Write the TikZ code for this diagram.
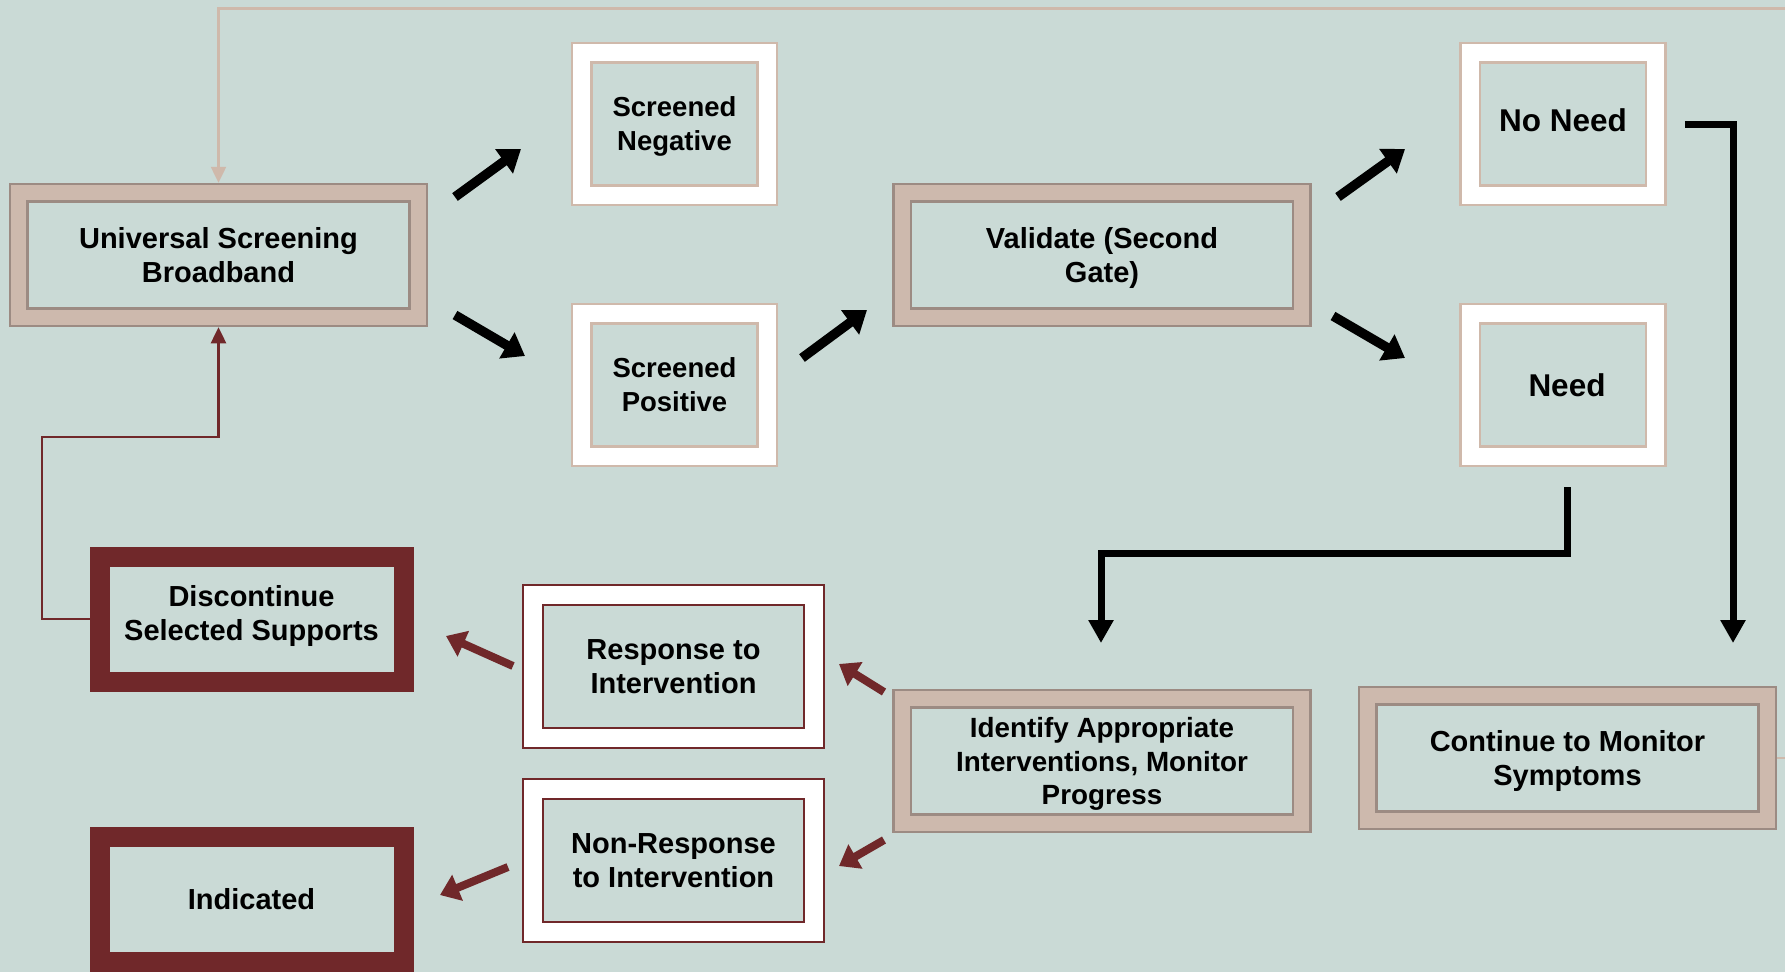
\documentclass[tikz,border=0pt]{standalone}
\usepackage{fontspec}
\setmainfont{Liberation Sans}
\usetikzlibrary{arrows.meta,calc}

\definecolor{bg}{HTML}{CADAD6}
\definecolor{tanband}{HTML}{CDB9AD}
\definecolor{tanline}{HTML}{9C8B83}
\definecolor{tanlite}{HTML}{CFB9AB}
\definecolor{maroon}{HTML}{70282A}

\tikzset{
  box/.style={rectangle, inner sep=0pt, align=center, text depth=0pt,
    font=\fontsize{29}{34.5}\selectfont\bfseries},
  % inner framed panel, inset by #1 and stroked in #2 with width #3
  inset/.style n args={3}{path picture={
    \draw[#2, line width=#3, fill=bg]
      ([shift={(#1,-#1)}]path picture bounding box.north west) rectangle
      ([shift={(-#1,#1)}]path picture bounding box.south east);}},
  tanbox/.style={box, minimum width=417pt, minimum height=142pt,
    fill=tanband, draw=tanline, line width=2.5pt, inset={17.5pt}{tanline}{2.5pt}},
  whitebox/.style={box, minimum width=205pt, minimum height=162pt,
    fill=white, draw=tanlite, line width=2.5pt, inset={19.5pt}{tanlite}{2.5pt}},
  rimbox/.style={box, minimum width=301pt, minimum height=163pt,
    fill=white, draw=maroon, line width=2.5pt, inset={20pt}{maroon}{2.5pt}},
  redbox/.style={box, minimum width=323pt, minimum height=144pt,
    fill=maroon, draw=maroon, line width=1pt, inset={20pt}{bg}{0.1pt}},
  blk/.style={black, line width=9.5pt, -{Triangle[length=21pt,width=29pt]}},
  redarr/.style={maroon, line width=8pt, -{Triangle[length=19pt,width=27pt]}},
  elbow/.style={black, line width=7pt, line join=miter, -{Triangle[length=23pt,width=24pt]}},
  thinred/.style={maroon, line width=2.5pt, -{Triangle[length=16pt,width=15pt]}},
  thintan/.style={tanlite, line width=2.5pt, -{Triangle[length=16pt,width=15pt]}}
}

\begin{document}
\begin{tikzpicture}[x=1pt,y=-1pt]
\useasboundingbox (0,0) rectangle (1785,972);
\clip (0,0) rectangle (1785,972);
\fill[bg] (0,0) rectangle (1785,972);

% boxes
\node[tanbox] (uni) at (218.5,255) {Universal Screening\\Broadband};
\node[whitebox, font=\fontsize{27.5}{34}\selectfont\bfseries] (sneg) at (674.5,124) {Screened\\Negative};
\node[whitebox, font=\fontsize{27.5}{34}\selectfont\bfseries] (spos) at (674.5,385) {Screened\\Positive};
\node[tanbox] (val) at (1102,255) {Validate (Second\\Gate)};
\node[whitebox, text depth=7pt, font=\fontsize{31.5}{36}\selectfont\bfseries] (noneed) at (1563,124) {No Need};
\node[whitebox, font=\fontsize{31.5}{36}\selectfont\bfseries] (need) at (1563,385) {\hspace*{8pt}Need};
\node[tanbox, font=\fontsize{27.8}{33.5}\selectfont\bfseries] (ident) at (1102,761)
  {Identify Appropriate\\Interventions, Monitor\\Progress};
\node[tanbox] (cont) at (1567.5,758) {Continue to Monitor\\Symptoms};
\node[rimbox] (resp) at (673.5,666.5) {Response to\\Intervention};
\node[rimbox] (nonresp) at (673.5,860.5) {Non-Response\\to Intervention};
\node[redbox, text depth=12pt, align=center] (disc) at (251.5,619) {Discontinue\\Selected Supports};
\node[redbox] (ind) at (251.5,899) {Indicated};

% block arrow end points
\coordinate (a1s) at (455,197);   \coordinate (a1e) at (521,149);
\coordinate (a2s) at (455,315);   \coordinate (a2e) at (525,356);
\coordinate (a3s) at (802,358);   \coordinate (a3e) at (867,310);
\coordinate (a4s) at (1338,197);  \coordinate (a4e) at (1405,149);
\coordinate (a5s) at (1333,316);  \coordinate (a5e) at (1405,358);
\coordinate (r1s) at (884,692);   \coordinate (r1e) at (839,664);
\coordinate (r2s) at (884,840);   \coordinate (r2e) at (839,866);
\coordinate (r3s) at (513,666);   \coordinate (r3e) at (446,636);
\coordinate (r4s) at (508,867);   \coordinate (r4e) at (440,895);

\draw[blk] (a1s) -- (a1e);
\draw[blk] (a2s) -- (a2e);
\draw[blk] (a3s) -- (a3e);
\draw[blk] (a4s) -- (a4e);
\draw[blk] (a5s) -- (a5e);

\draw[redarr] (r1s) -- (r1e);
\draw[redarr] (r2s) -- (r2e);
\draw[redarr] (r3s) -- (r3e);
\draw[redarr] (r4s) -- (r4e);

% elbow connectors
\coordinate (e1) at (1733,643);
\draw[elbow, shorten <=18pt] (noneed.east) -| (e1);
\coordinate (e2a) at (1567,487);
\coordinate (e2m) at (1567,553);
\coordinate (e2b) at (1101,643);
\draw[elbow] (e2a) -- (e2m) -| (e2b);

% feedback loops
\coordinate (rbend) at (42,437);
\draw[thinred] (disc.west) -| (rbend) -| (uni.south);
\coordinate (ttop) at (218.5,8.5);
\draw[thintan] (cont.east) -- ++(40,0) |- (ttop) -- (uni.north);
\end{tikzpicture}
\end{document}
